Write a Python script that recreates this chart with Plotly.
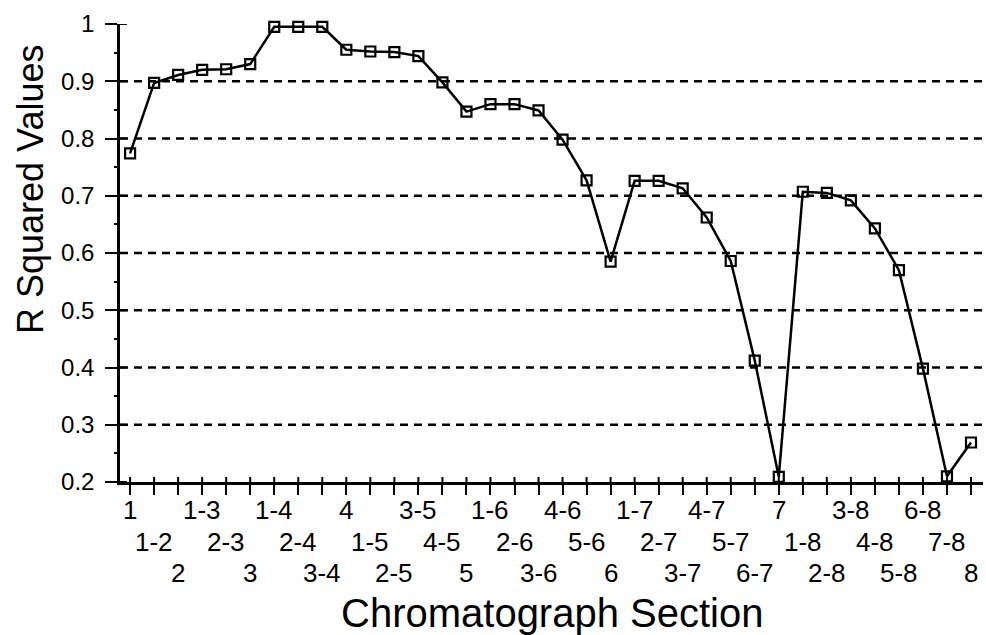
import plotly.graph_objects as go

sections = ["1", "1-2", "2", "1-3", "2-3", "3", "1-4", "2-4", "3-4", "4",
            "1-5", "2-5", "3-5", "4-5", "5", "1-6", "2-6", "3-6", "4-6", "5-6",
            "6", "1-7", "2-7", "3-7", "4-7", "5-7", "6-7", "7", "1-8", "2-8",
            "3-8", "4-8", "5-8", "6-8", "7-8", "8"]
r_squared = [0.774, 0.897, 0.911, 0.920, 0.921, 0.930, 0.995, 0.995, 0.995, 0.955,
             0.952, 0.951, 0.944, 0.898, 0.847, 0.860, 0.860, 0.849, 0.798, 0.727,
             0.585, 0.726, 0.726, 0.713, 0.662, 0.586, 0.412, 0.209, 0.707, 0.705,
             0.692, 0.643, 0.570, 0.398, 0.210, 0.269]
y_ticks = [0.2, 0.3, 0.4, 0.5, 0.6, 0.7, 0.8, 0.9, 1.0]
y_tick_text = ["0.2", "0.3", "0.4", "0.5", "0.6", "0.7", "0.8", "0.9", "1"]
grid_values = [0.3, 0.4, 0.5, 0.6, 0.7, 0.8, 0.9]

FONT = "Arial, Liberation Sans, sans-serif"
xpos = list(range(len(sections)))

fig = go.Figure()
fig.add_trace(go.Scatter(
    x=xpos, y=r_squared, mode="lines+markers",
    line=dict(color="black", width=2.5),
    marker=dict(symbol="square-open", size=10, color="black", line=dict(width=2.2)),
    showlegend=False, cliponaxis=False,
))

shapes = []
# dashed gridlines
for g in grid_values:
    shapes.append(dict(type="line", xref="paper", yref="y", x0=0, x1=1, y0=g, y1=g,
                       line=dict(color="black", width=2.5, dash="8px,6px"), layer="below"))
# x ticks inside part
for i in xpos:
    shapes.append(dict(type="line", xref="x", yref="paper", x0=i, x1=i, y0=0, y1=0.011,
                       line=dict(color="black", width=2)))
# y ticks inside part
for v in y_ticks:
    shapes.append(dict(type="line", xref="paper", yref="y", x0=0, x1=0.008, y0=v, y1=v,
                       line=dict(color="black", width=2)))

annotations = []
row_shift = [-28, -60, -91]
for i, lab in enumerate(sections):
    annotations.append(dict(x=i, y=0, xref="x", yref="paper", text=lab, showarrow=False,
                            xanchor="center", yanchor="middle", yshift=row_shift[i % 3],
                            font=dict(family=FONT, size=26, color="black")))
annotations.append(dict(x=0.5, y=0, xref="paper", yref="paper", text="Chromatograph Section",
                        showarrow=False, xanchor="center", yanchor="middle", yshift=-131,
                        font=dict(family=FONT, size=40, color="black")))
annotations.append(dict(x=0, y=0.5, xref="paper", yref="paper", text="R Squared Values",
                        showarrow=False, textangle=-90, xanchor="center", yanchor="middle",
                        xshift=-90, yshift=64,
                        font=dict(family=FONT, size=36, color="black")))

fig.update_layout(
    width=986, height=635,
    margin=dict(l=120, r=3, t=24, b=153),
    paper_bgcolor="white", plot_bgcolor="white",
    shapes=shapes, annotations=annotations,
    xaxis=dict(range=[-0.42, 35.5], showgrid=False, zeroline=False, showline=True,
               linecolor="black", linewidth=2.5, ticks="outside", ticklen=10,
               tickwidth=2, tickcolor="black", tickvals=xpos, showticklabels=False),
    yaxis=dict(range=[0.2, 1.0], showgrid=False, zeroline=False, showline=True,
               linecolor="black", linewidth=2.5, ticks="outside", ticklen=12,
               tickwidth=2, tickcolor="black", tickvals=y_ticks, ticktext=y_tick_text,
               ticklabelstandoff=6,
               tickfont=dict(family=FONT, size=24, color="black"),
               minor=dict(dtick=0.05, tick0=0.2, ticks="outside", ticklen=3,
                          tickwidth=2, tickcolor="black", showgrid=False)),
)

fig.write_html("out.html")
